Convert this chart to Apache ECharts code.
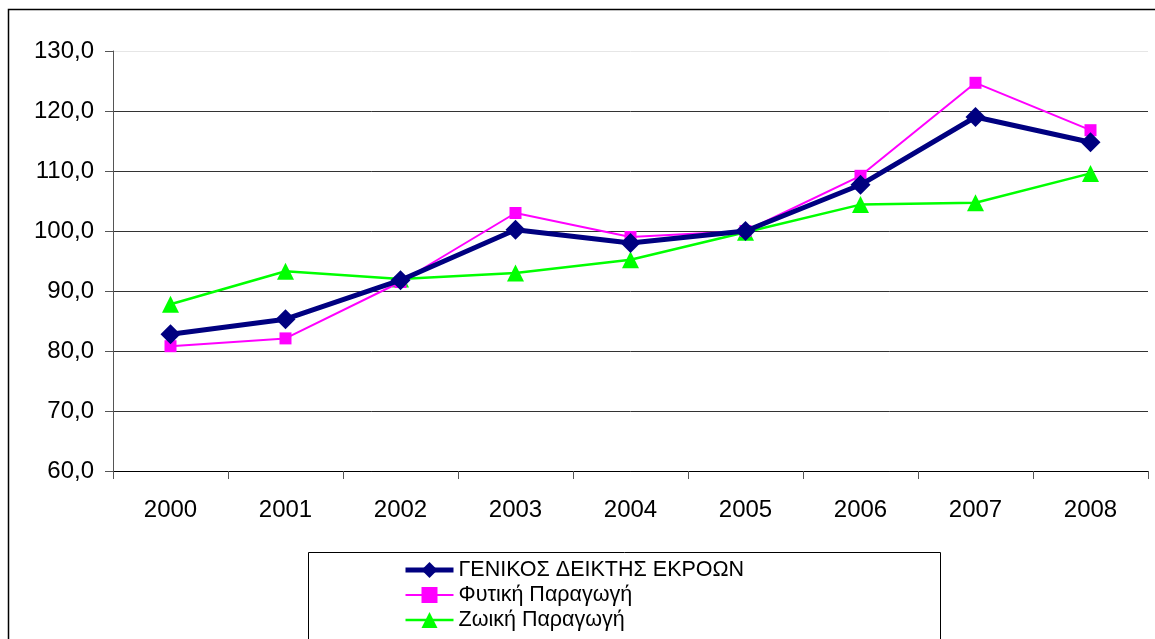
<!DOCTYPE html>
<html>
<head>
<meta charset="utf-8">
<script src="https://cdn.jsdelivr.net/npm/echarts@6/dist/echarts.min.js"></script>
<style>
html,body{margin:0;padding:0;background:#fff;}
#c{width:1155px;height:639px;}
</style>
</head>
<body>
<div id="c"></div>
<script>
const categories = ['2000','2001','2002','2003','2004','2005','2006','2007','2008'];
const seriesNames = ['ΓΕΝΙΚΟΣ ΔΕΙΚΤΗΣ ΕΚΡΟΩΝ','Φυτική Παραγωγή','Ζωική Παραγωγή'];
const generalIndex = [82.8, 85.3, 91.8, 100.2, 98.0, 100.0, 107.7, 119.0, 114.8];
const cropProduction = [80.8, 82.1, 91.5, 103.0, 99.0, 100.0, 109.2, 124.7, 116.8];
const animalProduction = [87.8, 93.3, 92.0, 93.0, 95.2, 99.8, 104.4, 104.7, 109.6];
const yTicks = {min: 60, max: 130, interval: 10};

const chart = echarts.init(document.getElementById('c'), null, {renderer: 'canvas'});
const font = '"Liberation Sans", Arial, sans-serif';
chart.setOption({
  animation: false,
  backgroundColor: '#fff',
  textStyle: {fontFamily: font},
  graphic: [
    {type: 'rect', z: -10, shape: {x: 8.5, y: 9.5, width: 1300, height: 800},
     style: {fill: 'none', stroke: '#000', lineWidth: 1.5}},
    {type: 'rect', z: -5, shape: {x: 308.5, y: 552.5, width: 632, height: 100},
     style: {fill: '#fff', stroke: '#000', lineWidth: 1}}
  ],
  grid: {left: 113, right: 7, top: 51, bottom: 168, containLabel: false},
  legend: {
    orient: 'vertical',
    left: 403,
    top: 559,
    padding: 0,
    itemWidth: 48,
    itemHeight: 20,
    itemGap: 3,
    textStyle: {fontSize: 21.5, color: '#000', fontFamily: font, lineHeight: 20},
    data: [
      {name: seriesNames[0], lineStyle: {width: 5}},
      {name: seriesNames[1], lineStyle: {width: 2}},
      {name: seriesNames[2], lineStyle: {width: 2.5}}
    ]
  },
  xAxis: {
    type: 'category',
    data: categories,
    boundaryGap: true,
    axisLine: {lineStyle: {color: '#000', width: 1}},
    axisTick: {show: true, length: 8, lineStyle: {color: '#555'}},
    axisLabel: {fontSize: 24, color: '#000', margin: 27, fontFamily: font}
  },
  yAxis: {
    type: 'value',
    min: yTicks.min,
    max: yTicks.max,
    interval: yTicks.interval,
    axisLine: {show: true, lineStyle: {color: '#555', width: 1}},
    axisTick: {show: true, length: 8, lineStyle: {color: '#555'}},
    axisLabel: {fontSize: 24, color: '#000', margin: 19, fontFamily: font,
      formatter: v => v.toFixed(1).replace('.', ',')},
    splitLine: {show: true, lineStyle: {color: ['#000','#333','#333','#333','#333','#333','#333','#e6e6e6'], width: 1}}
  },
  series: [
    {name: seriesNames[0], type: 'line', data: generalIndex, z: 5,
     symbol: 'diamond', symbolSize: 20,
     lineStyle: {color: '#000080', width: 5},
     itemStyle: {color: '#000080'}},
    {name: seriesNames[1], type: 'line', data: cropProduction, z: 4,
     symbol: 'rect', symbolSize: 12,
     lineStyle: {color: '#FF00FF', width: 2},
     itemStyle: {color: '#FF00FF'}},
    {name: seriesNames[2], type: 'line', data: animalProduction, z: 3,
     symbol: 'triangle', symbolSize: 17,
     lineStyle: {color: '#00FF00', width: 2.5},
     itemStyle: {color: '#00FF00'}}
  ]
});
</script>
</body>
</html>
